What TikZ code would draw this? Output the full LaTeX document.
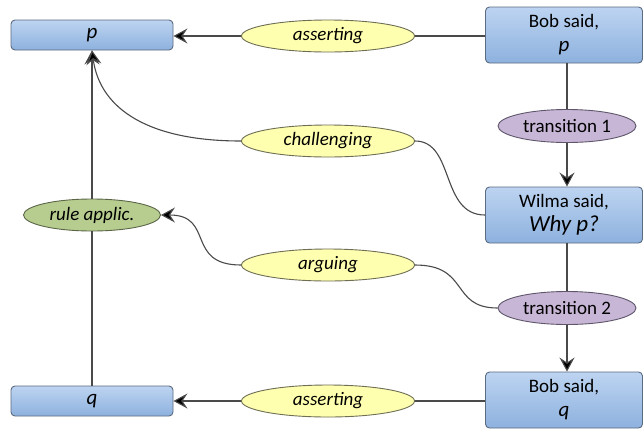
\documentclass[tikz,border=0pt]{standalone}
\usepackage{fontspec}
\setmainfont{Carlito}
\usetikzlibrary{arrows.meta,shapes.geometric}

\definecolor{boxtop}{HTML}{BDD4F1}
\definecolor{boxbot}{HTML}{8DB1DE}
\definecolor{boxline}{HTML}{5B6B80}
\definecolor{yel}{HTML}{FFFFB0}
\definecolor{yelline}{HTML}{6E6E55}
\definecolor{purp}{HTML}{C8B6D6}
\definecolor{purpline}{HTML}{5E566A}
\definecolor{grn}{HTML}{B6CD8F}
\definecolor{grnline}{HTML}{5B6648}
\definecolor{wire}{HTML}{4A4A4A}

\tikzset{
  claimbox/.style={draw=boxline, line width=0.9pt, rounded corners=4pt,
    top color=boxtop, bottom color=boxbot, align=center, inner sep=0pt,
    font=\fontsize{19}{22}\selectfont},
  yellipse/.style={ellipse, draw=yelline, line width=0.9pt, fill=yel,
    minimum width=173pt, minimum height=32pt, inner sep=0pt,
    font=\fontsize{19}{22}\selectfont\itshape},
  pellipse/.style={ellipse, draw=purpline, line width=0.9pt, fill=purp,
    minimum width=138pt, minimum height=33pt, inner sep=0pt,
    font=\fontsize{19}{22}\selectfont},
  gellipse/.style={ellipse, draw=grnline, line width=0.9pt, fill=grn,
    minimum width=137pt, minimum height=32pt, inner sep=0pt,
    font=\fontsize{19}{22}\selectfont\itshape},
  wire/.style={draw=wire, line width=1.1pt},
  arr/.style={wire, -{Stealth[length=14pt, width=15pt, inset=5pt, fill=black]}},
}

\begin{document}
\begin{tikzpicture}[x=1pt, y=-1pt]
  \useasboundingbox[fill=white] (0,0) rectangle (644,429);

  % left column: claims and the rule application
  \node[claimbox, minimum width=162pt, minimum height=30pt] (p) at (92,35)
    {\fontsize{21}{22}\selectfont\itshape p};
  \node[claimbox, minimum width=162pt, minimum height=30pt] (q) at (92,401)
    {\fontsize{21}{22}\selectfont\itshape q};
  \node[gellipse] (rule) at (92,215) {rule applic.};

  % right column: the dialogue moves
  \node[claimbox, minimum width=157pt, minimum height=56pt] (bobp) at (564,35)
    {Bob said,\\[2pt] {\fontsize{21}{22}\selectfont\itshape p}};
  \node[claimbox, minimum width=157pt, minimum height=56pt] (wilma) at (564,215)
    {Wilma said,\\[2pt] {\fontsize{23}{24}\selectfont\itshape Why p?}};
  \node[claimbox, minimum width=157pt, minimum height=56pt] (bobq) at (564,400)
    {Bob said,\\[2pt] {\fontsize{21}{22}\selectfont\itshape q}};
  \node[pellipse] (t1) at (567,126) {transition 1};
  \node[pellipse] (t2) at (567,308) {transition 2};

  % middle column: speech-act labels
  \node[yellipse] (as1) at (328,36) {asserting};
  \node[yellipse] (ch) at (328,141) {challenging};
  \node[yellipse] (ar) at (328,265) {arguing};
  \node[yellipse] (as2) at (328,401) {asserting};

  % connectors
  \draw[wire] (bobp.west |- as1.east) -- (as1.east);
  \draw[arr] (as1.west) -- (p.east |- as1.west);
  \draw[wire] (bobq.west |- as2.east) -- (as2.east);
  \draw[arr] (as2.west) -- (q.east |- as2.west);

  \draw[wire] (bobp.south -| t1.north) -- (t1.north);
  \draw[arr] (t1.south) -- (wilma.north -| t1.south);
  \draw[wire] (wilma.south -| t2.north) -- (t2.north);
  \draw[arr] (t2.south) -- (bobq.north -| t2.south);

  \draw[wire] (q.north) -- (rule.south);
  \draw[arr] (rule.north) -- (p.south);

  \draw[arr] (ch.west) .. controls (150,141) and (100,110) .. (p.south);
  \draw[wire] (ch.east) .. controls (455,141) and (440,215) .. (wilma.west);
  \draw[wire] (t2.west) .. controls (450,308) and (470,265) .. (ar.east);
  \draw[arr] (ar.west) .. controls (185,265) and (215,215) .. (rule.east);
\end{tikzpicture}
\end{document}
